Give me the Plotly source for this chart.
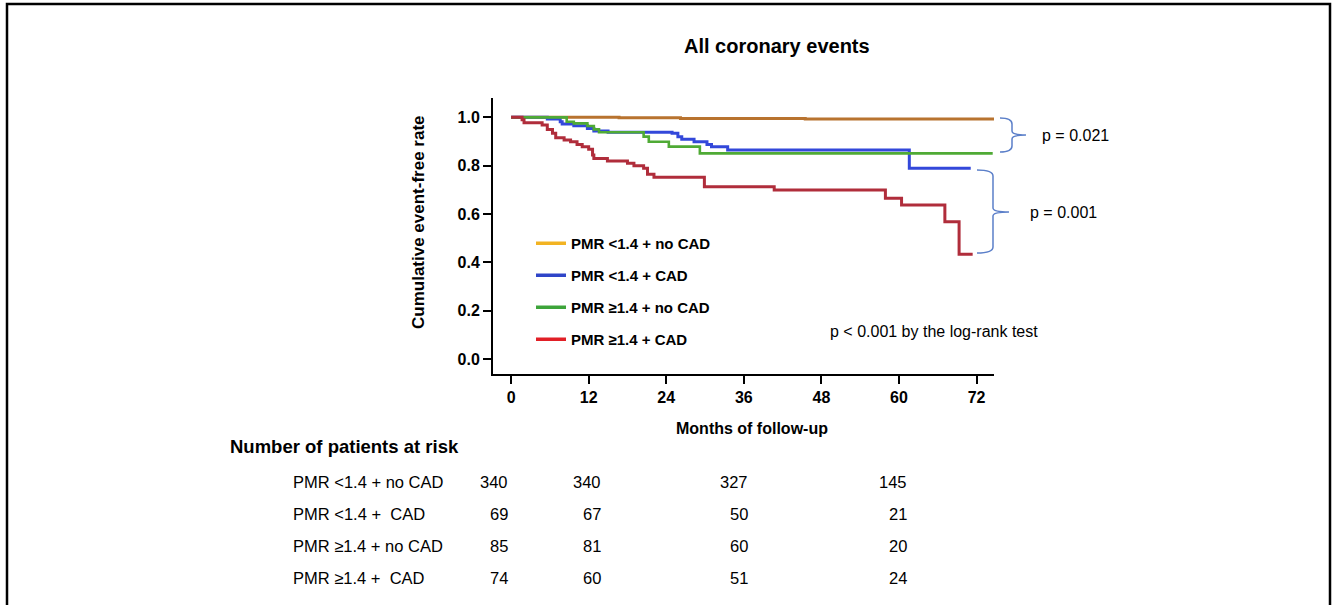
import plotly.graph_objects as go

# ---------------- data ----------------
groups = ["PMR <1.4 + no CAD", "PMR <1.4 + CAD", "PMR \u22651.4 + no CAD", "PMR \u22651.4 + CAD"]

orange_t = [0, 16.7, 26.2, 45.5, 74.9]
orange_s = [1.0, 0.998, 0.995, 0.993, 0.993]

blue_t = [0, 5.6, 7.6, 7.9, 9.7, 11.8, 12.8, 15.0, 24.9, 25.8, 26.4, 28.3, 30.3, 31.0, 33.5, 61.6, 71.1]
blue_s = [1.0, 0.993, 0.982, 0.972, 0.965, 0.954, 0.943, 0.938, 0.934, 0.920, 0.909, 0.899, 0.888,
          0.878, 0.865, 0.789, 0.789]

green_t = [0, 8.6, 9.7, 11.8, 12.8, 13.6, 20.5, 21.3, 24.4, 29.2, 74.5]
green_s = [1.0, 0.982, 0.975, 0.964, 0.950, 0.938, 0.920, 0.899, 0.879, 0.851, 0.851]

red_t = [0, 1.7, 2.0, 4.8, 5.6, 6.4, 6.9, 8.2, 9.2, 10.2, 11.0, 12.0, 12.6, 12.8, 14.9, 18.0, 19.0,
         20.5, 21.1, 22.1, 29.9, 40.7, 57.9, 60.4, 67.1, 69.3, 71.4]
red_s = [1.0, 0.99, 0.978, 0.968, 0.950, 0.934, 0.916, 0.906, 0.899, 0.888, 0.878, 0.868, 0.844,
         0.830, 0.819, 0.810, 0.800, 0.789, 0.765, 0.752, 0.713, 0.699, 0.665, 0.637, 0.568, 0.434, 0.434]

x_ticks = [0, 12, 24, 36, 48, 60, 72]
y_ticks = [0.0, 0.2, 0.4, 0.6, 0.8, 1.0]

risk_rows = ["PMR <1.4 + no CAD", "PMR <1.4 +  CAD", "PMR \u22651.4 + no CAD", "PMR \u22651.4 +  CAD"]
risk_counts = [
    [340, 340, 327, 145],
    [69, 67, 50, 21],
    [85, 81, 60, 20],
    [74, 60, 51, 24],
]

p_pair1 = "p = 0.021"
p_pair2 = "p = 0.001"
p_logrank = "p < 0.001 by the log-rank test"

curve_colors = ["#B8732F", "#3348DA", "#4FAA35", "#B02D3B"]
legend_colors = ["#F2B322", "#2F45C8", "#3DA43A", "#E11F26"]

# ---------------- layout geometry ----------------
W, H = 1334, 605
L, R, T, B = 493, 994, 98, 374


def xp(px):
    return (px - L) / (R - L)


def yp(py):
    return (B - py) / (B - T)


fig = go.Figure()

series = [(orange_t, orange_s), (blue_t, blue_s), (green_t, green_s), (red_t, red_s)]
widths = [3, 3, 2.6, 3]
for i, (t, s) in enumerate(series):
    fig.add_trace(go.Scatter(x=t, y=s, mode="lines", line=dict(color=curve_colors[i], width=widths[i], shape="hv"),
                             showlegend=False, hoverinfo="skip"))

for i, g in enumerate(groups):
    fig.add_trace(go.Scatter(x=[None], y=[None], mode="lines", name=f"<b>{g}</b>", legendgroup=g,
                             line=dict(color=legend_colors[i], width=3.5)))

annotations = []
annotations.append(dict(text="<b>All coronary events</b>", x=xp(777), y=yp(46), xref="paper", yref="paper",
                        showarrow=False, font=dict(family="Arial", size=20, color="black"),
                        xanchor="center", yanchor="middle"))
annotations.append(dict(text="<b>Cumulative event-free rate</b>", x=xp(418), y=yp(222), xref="paper", yref="paper",
                        showarrow=False, textangle=-90, font=dict(family="Arial", size=17, color="black"),
                        xanchor="center", yanchor="middle"))
annotations.append(dict(text="<b>Months of follow-up</b>", x=xp(752), y=yp(428), xref="paper", yref="paper",
                        showarrow=False, font=dict(family="Arial", size=16, color="black"),
                        xanchor="center", yanchor="middle"))
annotations.append(dict(text=p_pair1, x=xp(1040), y=yp(135), xref="paper", yref="paper", showarrow=False,
                        font=dict(family="Arial", size=16, color="black"), xanchor="left", yanchor="middle"))
annotations.append(dict(text=p_pair2, x=xp(1028), y=yp(212), xref="paper", yref="paper", showarrow=False,
                        font=dict(family="Arial", size=16, color="black"), xanchor="left", yanchor="middle"))
annotations.append(dict(text=p_logrank, x=xp(828), y=yp(331), xref="paper", yref="paper", showarrow=False,
                        font=dict(family="Arial", size=16, color="black"), xanchor="left", yanchor="middle"))
annotations.append(dict(text="<b>Number of patients at risk</b>", x=xp(228), y=yp(446), xref="paper", yref="paper",
                        showarrow=False, font=dict(family="Arial", size=18.5, color="black"),
                        xanchor="left", yanchor="middle"))
row_y = [482, 514, 546, 578]
col_x = [510, 603, 750, 909]
for r, name in enumerate(risk_rows):
    annotations.append(dict(text=name.replace("  ", "&nbsp; "), x=xp(291), y=yp(row_y[r]), xref="paper", yref="paper",
                            showarrow=False, font=dict(family="Arial", size=16.5, color="black"),
                            xanchor="left", yanchor="middle"))
    for c, v in enumerate(risk_counts[r]):
        annotations.append(dict(text=str(v), x=xp(col_x[c]), y=yp(row_y[r]), xref="paper", yref="paper",
                                showarrow=False, font=dict(family="Arial", size=16.5, color="black"),
                                xanchor="right", yanchor="middle"))


def brace(x_end, x_mid, x_tip, y_top, y_mid, y_bot):
    pts = lambda x, y: f"{xp(x):.5f},{yp(y):.5f}"
    r = 6
    return (f"M {pts(x_end, y_top)} Q {pts(x_mid, y_top)} {pts(x_mid, y_top + r)} "
            f"L {pts(x_mid, y_mid - 4)} Q {pts(x_mid, y_mid)} {pts(x_tip, y_mid)} "
            f"Q {pts(x_mid, y_mid)} {pts(x_mid, y_mid + 4)} "
            f"L {pts(x_mid, y_bot - r)} Q {pts(x_mid, y_bot)} {pts(x_end, y_bot)}")


shapes = [
    dict(type="path", path=brace(1000, 1012, 1026, 118, 135, 152), xref="paper", yref="paper",
         line=dict(color="#5B7FC9", width=1.5)),
    dict(type="path", path=brace(977, 993, 1009, 170, 212, 253), xref="paper", yref="paper",
         line=dict(color="#5B7FC9", width=1.5)),
    dict(type="path", path=f"M {xp(7)},{yp(615)} L {xp(7)},{yp(4)} L {xp(1330)},{yp(4)} L {xp(1330)},{yp(615)}",
         xref="paper", yref="paper", line=dict(color="black", width=2.5)),
]

fig.update_layout(
    width=W, height=H, autosize=False,
    margin=dict(l=L, r=W - R, t=T, b=H - B, pad=0),
    paper_bgcolor="white", plot_bgcolor="white",
    annotations=annotations, shapes=shapes,
    legend=dict(x=xp(531), y=yp(227), xanchor="left", yanchor="top", tracegroupgap=9.5,
                font=dict(family="Arial", size=15, color="black"), bgcolor="rgba(0,0,0,0)",
                itemwidth=30),
    font=dict(family="Arial", color="black"),
)
fig.update_xaxes(range=[-2.8, 74.7], tickvals=x_ticks, ticktext=[f"<b>{v}</b>" for v in x_ticks],
                 showline=True, linecolor="black", linewidth=2, ticks="outside", ticklen=8, tickwidth=1.5,
                 tickcolor="black", showgrid=False, zeroline=False, tickfont=dict(size=16, family="Arial"))
fig.update_yaxes(range=[-0.062, 1.08], tickvals=y_ticks, ticktext=[f"<b>{v:.1f}</b>" for v in y_ticks],
                 showline=True, linecolor="black", linewidth=2, ticks="outside", ticklen=8, tickwidth=1.5,
                 tickcolor="black", showgrid=False, zeroline=False, tickfont=dict(size=16, family="Arial"))

fig.write_html("out.html", config={"displayModeBar": False},
               post_script="document.body.style.margin='0';document.body.style.overflow='hidden';")
